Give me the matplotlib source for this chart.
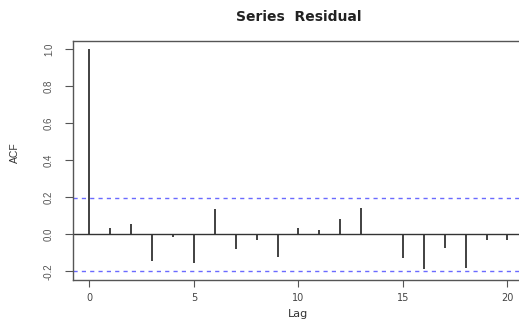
import numpy as np
import matplotlib
matplotlib.use("Agg")
import matplotlib.pyplot as plt

# ACF values
lags = list(range(0, 21))
acf_values = [1.0, 0.032, 0.058, -0.146, -0.014, -0.155, 0.139, -0.081, -0.032,
              -0.121, 0.032, 0.025, 0.085, 0.142, 0.002, -0.128, -0.189, -0.072,
              -0.18, -0.029, -0.032]
conf_bound = 0.197
x_ticks = [0, 5, 10, 15, 20]
y_ticks = [-0.2, 0.0, 0.2, 0.4, 0.6, 0.8, 1.0]

plt.rcParams["font.family"] = ["Liberation Sans", "DejaVu Sans"]

fig = plt.figure(figsize=(5.19, 3.2), dpi=100)
ax = fig.add_axes([0.140, 0.125, 0.870, 0.747])

ax.vlines(lags, 0, acf_values, color="#333333", linewidth=1.3)
ax.axhline(0, color="#333333", linewidth=1.0)
for b in (conf_bound, -conf_bound):
    ax.axhline(b, color="#6a6aff", linewidth=1.0, linestyle=(0, (3, 3)))

ax.set_xlim(-0.8, 20.8)
ax.set_ylim(-0.247, 1.045)
ax.set_xticks(x_ticks)
ax.set_xticklabels([str(v) for v in x_ticks], family="DejaVu Sans", fontsize=7)
ax.set_yticks(y_ticks)
ax.set_yticklabels([f"{v:.1f}" for v in y_ticks], rotation=90, va="center",
                   fontsize=7)
ax.tick_params(colors="#555555", length=5, width=0.8)
ax.tick_params(axis="x", labelcolor="#444444", pad=4.5)
ax.tick_params(axis="y", pad=8, length=5.5)

for s in ax.spines.values():
    s.set_color("#555555")
    s.set_linewidth(1.0)

fig.text(0.575, 0.004, "Lag", ha="center", va="bottom", fontsize=8,
         family="DejaVu Sans", color="#333333")
fig.text(0.029, 0.522, "ACF", rotation=90, ha="center", va="center",
         fontsize=7.5, color="#333333")
fig.text(0.575, 0.947, "Series  Residual", ha="center", va="center",
         fontsize=10, fontweight="bold", family="DejaVu Sans", color="#222222")

fig.savefig("out.png", dpi=100)
plt.close(fig)
